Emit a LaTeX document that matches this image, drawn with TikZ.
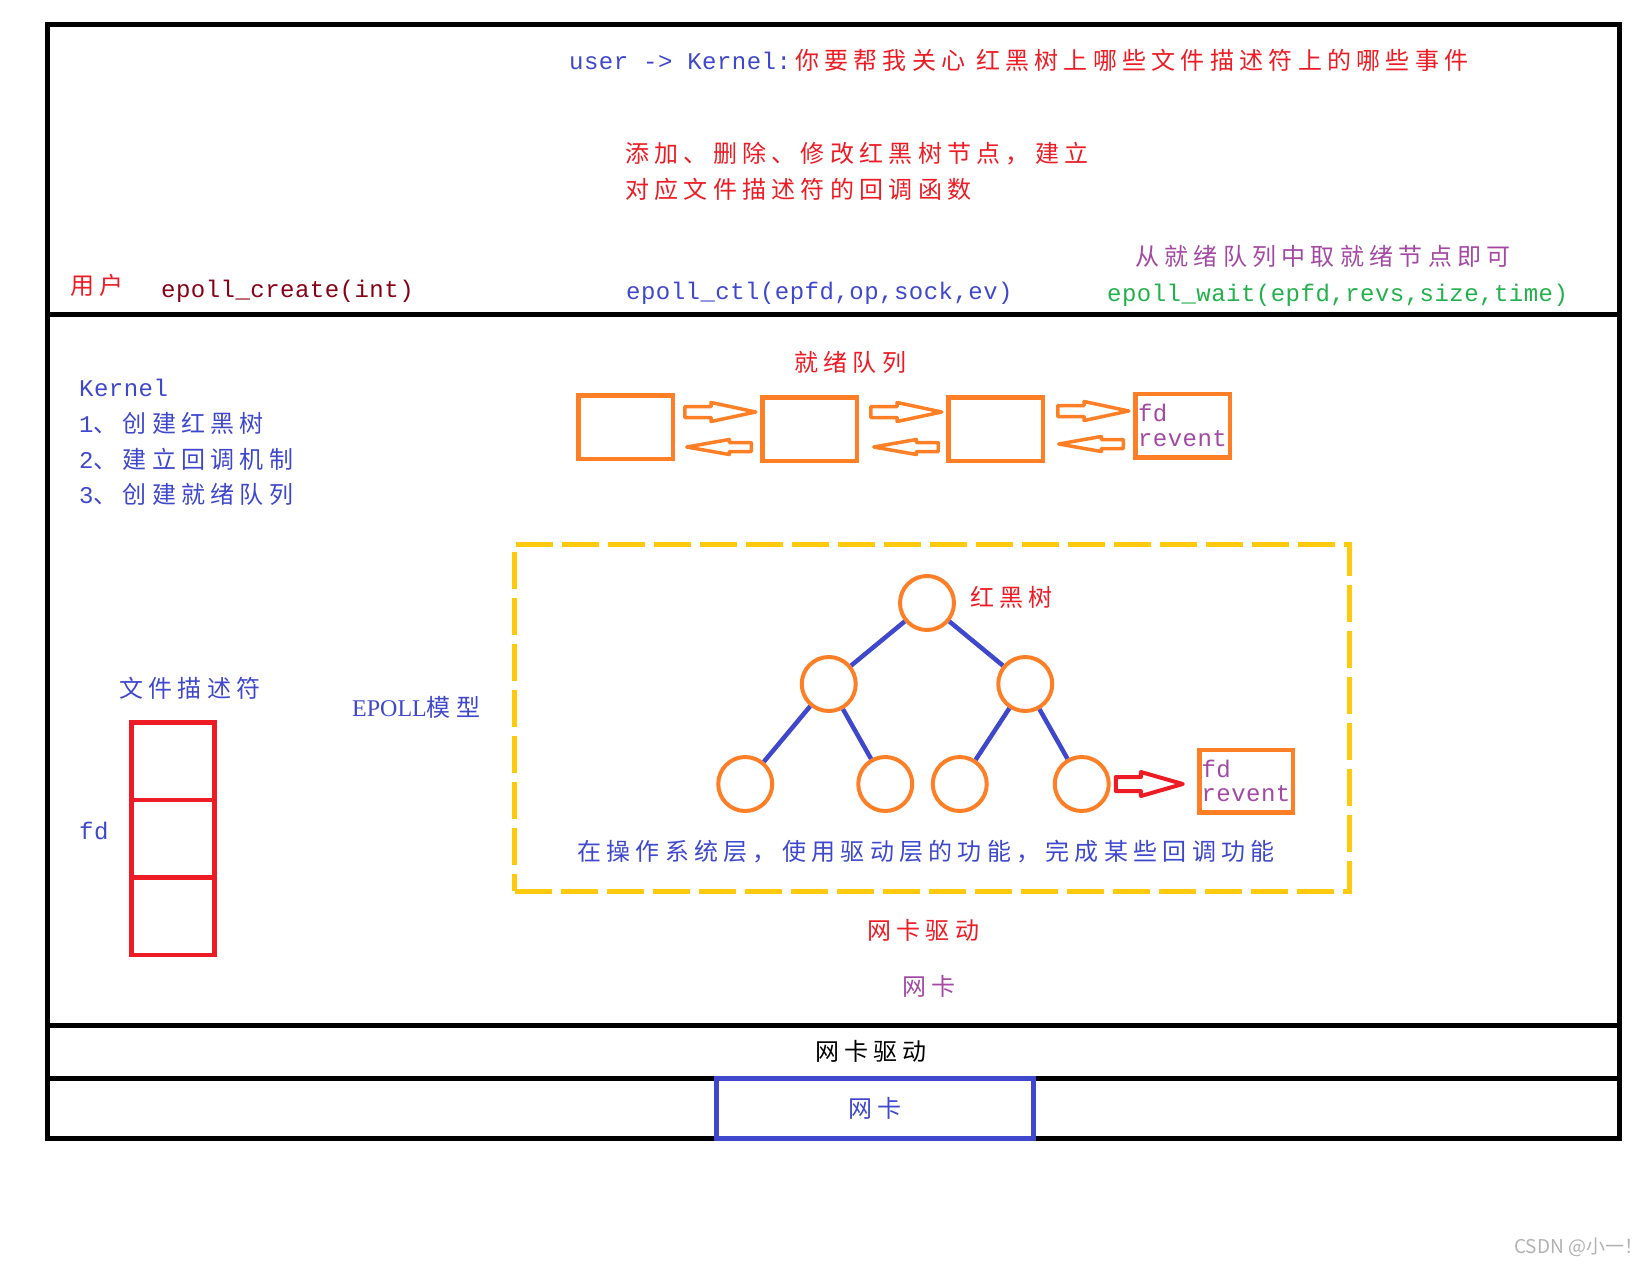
\documentclass[tikz,border=0pt]{standalone}
\usepackage{fontspec}
\setmainfont{Noto Sans CJK SC}[LetterSpace=22]
\setmonofont{Liberation Mono}[LetterSpace=2]
\newfontfamily\latinserif{Liberation Serif}
\newfontfamily\markfont{Noto Sans CJK SC}
\usepackage{tikz}
\usetikzlibrary{shapes}
\usetikzlibrary{positioning}
\usetikzlibrary{calc}
\definecolor{paintred}{HTML}{ED1C24}
\definecolor{paintdarkred}{HTML}{880015}
\definecolor{paintorange}{HTML}{FF7F27}
\definecolor{paintgold}{HTML}{FFC90E}
\definecolor{paintblue}{HTML}{3F48CC}
\definecolor{paintpurple}{HTML}{A349A4}
\definecolor{paintgreen}{HTML}{22B14C}
\tikzset{
  plain_text/.style = {inner sep=0pt, anchor=west,
    font=\fontsize{24}{29}\selectfont},% texte chinois
  code_text/.style = {plain_text, font=\fontsize{24}{29}\selectfont\ttfamily},% appels epoll
  q_box/.style = {rectangle, draw=paintorange, line width=4.5pt, inner sep=0pt,
    outer sep=0pt, minimum width=94.5pt, minimum height=63.5pt},% file prete, noeud
  fd_box/.style = {q_box, align=left, text=paintpurple,
    font=\fontsize{24}{24.5}\selectfont\ttfamily},% noeud fd / revent
  fd_cell/.style = {rectangle, draw=paintred, line width=4.5pt, inner sep=0pt,
    outer sep=0pt, minimum width=83pt, minimum height=77.5pt},% table des fd
  rb_node/.style = {circle, draw=paintorange, line width=4pt, inner sep=0pt,
    minimum size=54pt},% arbre rouge noir, noeud
  os_layer/.style = {rectangle, draw=paintgold, line width=5pt,
    dash pattern=on 37pt off 9pt, minimum width=835pt, minimum height=346.5pt},
  nic_box/.style = {rectangle, draw=paintblue, line width=5pt, text=paintblue,
    minimum width=317pt, minimum height=60pt, inner sep=0pt,
    font=\fontsize{24}{29}\selectfont},% carte reseau
  q_next/.style = {single arrow, draw=paintorange, line width=3.5pt,
    line join=round, inner sep=0pt, inner ysep=3.75pt, outer sep=0pt,
    single arrow head extend=4pt, single arrow tip angle=24,
    minimum width=0pt, minimum height=71pt, anchor=tail},% fleche vers la droite
  q_prev/.style = {single arrow, draw=paintorange, line width=3.5pt,
    line join=round, inner sep=0pt, inner ysep=2.75pt, outer sep=0pt,
    single arrow head extend=3pt, single arrow tip angle=20,
    minimum width=0pt, minimum height=64.5pt, shape border rotate=180,
    anchor=tail},% fleche vers la gauche
  hit_arrow/.style = {single arrow, draw=paintred, line width=4pt,
    line join=round, inner sep=0pt, inner ysep=5pt, outer sep=0pt,
    single arrow head extend=5pt, single arrow tip angle=32,
    minimum width=0pt, minimum height=67pt}% fleche rouge
}

\begin{document}
\begin{tikzpicture}[x=1pt, y=-1pt]
  \tikzstyle{level 1}=[sibling distance=196.5pt, level distance=81pt]
  \tikzstyle{level 2}=[sibling distance=131pt, level distance=100pt]
  \tikzstyle{edge from parent}=[draw=paintblue, line width=4.5pt]
  \useasboundingbox (0,0) rectangle (1652,1266);

  % cadre
  \draw[line width=5pt] (47.5,24.5) rectangle (1619.5,1138.5);
  \draw[line width=5pt] (47.5,314.5) -- (1619.5,314.5);
  \draw[line width=5pt] (47.5,1025) -- (1619.5,1025);
  \draw[line width=5pt] (47.5,1078) -- (1619.5,1078);

  % espace utilisateur
  \node[plain_text, text=paintred] (label_request) at (569,60)
    {\textcolor{paintblue}{\ttfamily user -> Kernel:}\hspace{4pt}你要帮我关心 红黑树上哪些文件描述符上的哪些事件};
  \node[plain_text, text=paintred, align=left, font=\fontsize{24}{36}\selectfont]
    (label_ctl_note) at (625,171) {添加、删除、修改红黑树节点，建立\\对应文件描述符的回调函数};
  \node[plain_text, text=paintred] (label_user) at (70,285) {用户};
  \node[code_text, text=paintdarkred] (label_create) at (161,291) {epoll\_create(int)};
  \node[code_text, text=paintblue] (label_ctl) at (626,293) {epoll\_ctl(epfd,op,sock,ev)};
  \node[plain_text, text=paintpurple] (label_wait_note) at (1135,256) {从就绪队列中取就绪节点即可};
  \node[code_text, text=paintgreen] (label_wait) at (1107,295) {epoll\_wait(epfd,revs,size,time)};

  % noyau
  \node[plain_text, text=paintblue, align=left, font=\fontsize{24}{35.7}\selectfont]
    (label_kernel) at (79,442.5)
    {{\ttfamily Kernel}\\{\ttfamily 1}、创建红黑树\\{\ttfamily 2}、建立回调机制\\{\ttfamily 3}、创建就绪队列};

  % file prete
  \node[plain_text, text=paintred] (label_ready) at (794,362) {就绪队列};
  \node[q_box] (q_box1) at (625.5,427) {};
  \node[q_box] (q_box2) at (809.5,429) {};
  \node[q_box] (q_box3) at (995.5,429) {};
  \node[fd_box] (q_fd) at (1182.5,425.5) {fd\\revent};
  \node[q_next] (q_next1) at ($(q_box1.east)+(12,-15)$) {};
  \node[q_prev] (q_prev1) at ($(q_box2.west)+(-11,18)$) {};
  \node[q_next] (q_next2) at ($(q_box2.east)+(14,-17)$) {};
  \node[q_prev] (q_prev2) at ($(q_box3.west)+(-10,18)$) {};
  \node[q_next] (q_next3) at ($(q_box3.east)+(15,-18)$) {};
  \node[q_prev] (q_prev3) at ($(q_fd.west)+(-12,18.5)$) {};

  % table des descripteurs
  \node[plain_text, text=paintblue] (label_fd_table) at (119,688) {文件描述符};
  \node[fd_cell] (fd_cell1) at (173,761.25) {};
  \node[fd_cell, below=0pt of fd_cell1] (fd_cell2) {};
  \node[fd_cell, below=0pt of fd_cell2] (fd_cell3) {};
  \node[code_text, text=paintblue] (label_fd) at (79,831) {fd};
  \node[plain_text, text=paintblue] (label_epoll) at (352,707) {{\latinserif EPOLL}模型};

  % couche systeme
  \node[os_layer] (os_layer) at (932,717.75) {};
  \node[rb_node] (rb_root) at (927,603) {}
      child{ node [rb_node] (rb_l) {}
        child{ node [rb_node, xshift=-18pt] (rb_ll) {}}
        child{ node [rb_node, xshift=-9pt] (rb_lr) {}}
      }
      child{ node [rb_node] (rb_r) {}
        child{ node [rb_node] (rb_rl) {}}
        child{ node [rb_node, xshift=-9pt] (rb_rr) {}}
      }
  ;
  \node[plain_text, text=paintred] (label_rb) at (970,597) {红黑树};
  \node[fd_box, minimum width=93.5pt, minimum height=62.5pt] (rb_fd) at (1246,781) {fd\\revent};
  \node[hit_arrow, anchor=tail] (rb_hit) at ([xshift=5pt]rb_rr.east) {};
  \node[plain_text, text=paintblue] (label_os) at (577,852) {在操作系统层，使用驱动层的功能，完成某些回调功能};

  \node[plain_text, text=paintred] (label_driver) at (867,930) {网卡驱动};
  \node[plain_text, text=paintpurple] (label_nic) at (902,986) {网卡};

  % couches du bas
  \node[plain_text, anchor=center] (driver_bar) at (871,1051.5) {网卡驱动};
  \node[nic_box] (nic_box) at (875,1108) {网卡};

  \node[inner sep=0pt, anchor=west, text=black!30, font=\markfont\fontsize{19}{19}\selectfont]
    (watermark) at (1514,1247) {CSDN @小一！};
\end{tikzpicture}
\end{document}
